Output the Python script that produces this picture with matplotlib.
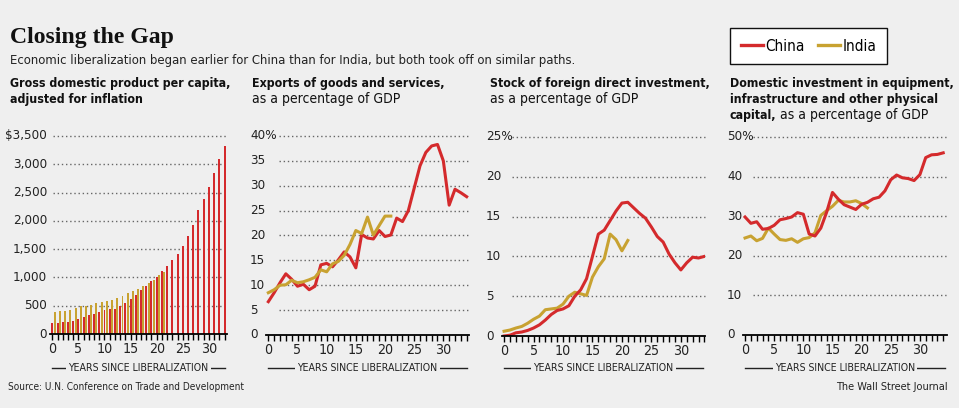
import numpy as np
import matplotlib.pyplot as plt
from matplotlib.lines import Line2D
from matplotlib import font_manager

W, H = 959, 408
BG = '#efefef'
RED = '#d42a2c'
GOLD = '#c8a231'

# narrowest sans family available
names = {(f.name, f.stretch) for f in font_manager.fontManager.ttflist}
SANS, STRETCH = 'Liberation Sans', 'normal'
for n, s in [('Liberation Sans Narrow', 'condensed'), ('Liberation Sans Narrow', 'normal'),
             ('Roboto Condensed', 'normal'), ('DejaVu Sans', 'condensed'),
             ('Roboto', 'normal')]:
    if (n, s) in names:
        SANS, STRETCH = n, s
        break
plt.rcParams['font.family'] = [SANS, 'DejaVu Sans']
plt.rcParams['font.stretch'] = STRETCH

# ---------------------------------------------------------------- data
gdp_china = [190, 200, 210, 220, 235, 260, 295, 330, 355, 385, 420, 435, 445, 490,
             545, 615, 690, 770, 840, 930, 1010, 1110, 1200, 1300, 1420, 1556, 1730,
             1935, 2195, 2390, 2600, 2850, 3100, 3320]
gdp_india = [390, 405, 415, 430, 460, 490, 500, 520, 550, 565, 575, 600, 635, 675,
             720, 760, 800, 840, 900, 960, 1040, 1090]

exports_china = [6.7, 8.5, 10.5, 12.3, 11.2, 9.8, 10.2, 9.1, 9.8, 14.1, 14.4, 13.7, 15.1,
                 16.7, 15.7, 13.5, 20.2, 19.5, 19.3, 21.0, 19.8, 20.1, 23.5, 22.8, 25.0,
                 29.5, 34.0, 36.7, 38.0, 38.3, 35.0, 26.1, 29.3, 28.6, 27.8]
exports_india = [8.5, 9.1, 10.0, 10.1, 11.0, 10.5, 10.7, 11.1, 11.6, 13.1, 12.7, 14.3,
                 14.8, 16.0, 18.2, 21.0, 20.4, 23.7, 20.1, 22.0, 23.9, 23.9]

fdi_china = [0.0, 0.1, 0.4, 0.5, 0.7, 1.0, 1.4, 2.0, 2.7, 3.2, 3.4, 3.8, 5.0, 5.8, 7.2,
             10.0, 12.8, 13.3, 14.5, 15.7, 16.7, 16.8, 16.1, 15.4, 14.8, 13.7, 12.5,
             11.8, 10.3, 9.2, 8.3, 9.2, 9.9, 9.8, 10.0]
fdi_india = [0.6, 0.75, 1.0, 1.2, 1.6, 2.1, 2.5, 3.3, 3.4, 3.5, 4.0, 5.0, 5.5, 5.3, 5.1,
             7.4, 8.7, 9.7, 12.8, 12.1, 10.7, 12.0]

invest_china = [29.8, 28.2, 28.6, 26.7, 26.9, 27.7, 29.1, 29.4, 29.8, 30.9, 30.5, 25.5,
                25.0, 27.0, 31.0, 36.0, 34.3, 32.9, 32.3, 31.7, 33.0, 33.5, 34.4, 34.8,
                36.4, 39.2, 40.4, 39.7, 39.5, 39.0, 40.5, 44.8, 45.5, 45.6, 46.0]
invest_india = [24.5, 25.0, 23.8, 24.4, 27.0, 25.5, 24.1, 23.9, 24.3, 23.4, 24.3, 24.6,
                25.8, 30.2, 31.4, 32.5, 34.0, 33.6, 33.6, 33.9, 33.2, 32.1]

yt_gdp = [0, 500, 1000, 1500, 2000, 2500, 3000, 3500]
yl_gdp = ['0', '500', '1,000', '1,500', '2,000', '2,500', '3,000', '$3,500']
yt_exp = [0, 5, 10, 15, 20, 25, 30, 35, 40]
yl_exp = ['0', '5', '10', '15', '20', '25', '30', '35', '40%']
yt_fdi = [0, 5, 10, 15, 20, 25]
yl_fdi = ['0', '5', '10', '15', '20', '25%']
yt_inv = [0, 10, 20, 30, 40, 50]
yl_inv = ['0', '10', '20', '30', '40', '50%']

# ---------------------------------------------------------------- figure
fig = plt.figure(figsize=(W / 100, H / 100), dpi=100, facecolor=BG)
renderer = fig.canvas.get_renderer()


def fy(y):
    return 1 - y / H


def fit(t, width_px):
    # scale a text's font size so it spans width_px, as in the reference
    w = t.get_window_extent(renderer).width
    t.set_fontsize(t.get_fontsize() * width_px / w)
    return t


probe = fit(fig.text(0, 0, '3,000', fontsize=11), 34)
TICK_FS = probe.get_fontsize()
probe.remove()


def px_axes(x0, x1, y_top, y_bot):
    return fig.add_axes([x0 / W, fy(y_bot), (x1 - x0) / W, (y_bot - y_top) / H])


def setup(ax, x0, x1, xlim, ylim, yticks, ylabels, lab_px, ha, grid_px, last):
    ax.set_facecolor('none')
    ax.set_xlim(*xlim)
    ax.set_ylim(*ylim)
    for s in ['top', 'right', 'left']:
        ax.spines[s].set_visible(False)
    ax.spines['bottom'].set_linewidth(1.3)
    ax.set_xticks(range(0, 31, 5))
    ax.set_xticks(range(0, last + 1), minor=True)
    ax.tick_params(axis='x', which='both', direction='out', length=4, width=1,
                   labelsize=TICK_FS * 1.06, pad=2, colors='black', labelcolor='#222')
    ax.set_yticks([])
    trans = ax.get_yaxis_transform()
    gx = (grid_px - x0) / (x1 - x0)
    lx = (lab_px - x0) / (x1 - x0)
    for v, lab in zip(yticks, ylabels):
        if v > 0:
            ax.plot([gx, 1], [v, v], transform=trans, ls=(0, (1, 2)), color='#666',
                    lw=1, clip_on=False, zorder=0)
        ax.text(lx, v, lab, transform=trans, ha=ha, va='center', fontsize=TICK_FS,
                color='#222')
    # axis title with rules either side
    fig.add_artist(Line2D([x0 / W + 0.002, x1 / W - 0.002], [fy(368), fy(368)],
                          color='#222', lw=1))
    t = fig.text((x0 + x1) / 2 / W, fy(368), 'YEARS SINCE LIBERALIZATION', ha='center',
                 va='center', fontsize=9, color='#222',
                 bbox=dict(facecolor=BG, edgecolor='none', pad=2))
    fit(t, 142)


# panel 1: GDP per capita bars
ax1 = px_axes(50, 227, 136, 334)
setup(ax1, 50, 227, (-0.44, 33.47), (0, 3500), yt_gdp, yl_gdp, 47, 'right', 53, 33)
ax1.bar(np.arange(len(gdp_china)), gdp_china, width=0.38, color=RED, zorder=2)
ax1.bar(np.arange(len(gdp_india)) + 0.45, gdp_india, width=0.38, color=GOLD, zorder=2)

# panel 2: exports
ax2 = px_axes(266, 469, 136, 335)
setup(ax2, 266, 469, (-0.4, 34.4), (0, 40), yt_exp, yl_exp, 250, 'left', 279, 34)
l_china, = ax2.plot(range(len(exports_china)), exports_china, color=RED, lw=2.2)
l_india, = ax2.plot(range(len(exports_india)), exports_india, color=GOLD, lw=2.2)

# panel 3: FDI stock
ax3 = px_axes(502, 705, 137, 336)
setup(ax3, 502, 705, (-0.35, 34.1), (0, 25), yt_fdi, yl_fdi, 486, 'left', 512, 34)
ax3.plot(range(len(fdi_india)), fdi_india, color=GOLD, lw=2.2)
ax3.plot(range(len(fdi_china)), fdi_china, color=RED, lw=2.2)

# panel 4: domestic investment
ax4 = px_axes(743, 947, 137, 335)
setup(ax4, 743, 947, (-0.35, 34.65), (0, 50), yt_inv, yl_inv, 727, 'left', 753, 34)
ax4.plot(range(len(invest_india)), invest_india, color=GOLD, lw=2.2)
ax4.plot(range(len(invest_china)), invest_china, color=RED, lw=2.2)

# ---------------------------------------------------------------- text
t = fig.text(10 / W, fy(42.5), 'Closing the Gap', fontsize=17, fontweight='bold',
             family=['Liberation Serif', 'DejaVu Serif'], va='baseline', color='#111')
fit(t, 164)
t = fig.text(10 / W, fy(64), 'Economic liberalization began earlier for China than for '
             'India, but both took off on similar paths.', fontsize=11, va='baseline',
             color='#222')
fit(t, 565)

BOLD_FS = fit(fig.text(10 / W, fy(87), 'Gross domestic product per capita,',
                       fontweight='bold', fontsize=11, va='baseline', color='#111'),
              222).get_fontsize()
reg = fit(fig.text(252 / W, fy(103), 'as a percentage of GDP', fontsize=11,
                   va='baseline', color='#111'), 148)
REG_FS = reg.get_fontsize()

tb = dict(va='baseline', color='#111')
fig.text(10 / W, fy(103), 'adjusted for inflation', fontweight='bold', fontsize=BOLD_FS, **tb)
fig.text(252 / W, fy(87), 'Exports of goods and services,', fontweight='bold',
         fontsize=BOLD_FS, **tb)
fig.text(490 / W, fy(87), 'Stock of foreign direct investment,', fontweight='bold',
         fontsize=BOLD_FS, **tb)
fig.text(490 / W, fy(103), 'as a percentage of GDP', fontsize=REG_FS, **tb)
fig.text(730 / W, fy(87), 'Domestic investment in equipment,', fontweight='bold',
         fontsize=BOLD_FS, **tb)
fig.text(730 / W, fy(103), 'infrastructure and other physical', fontweight='bold',
         fontsize=BOLD_FS, **tb)
t = fig.text(730 / W, fy(119), 'capital,', fontweight='bold', fontsize=BOLD_FS, **tb)
bb = t.get_window_extent(renderer)
fig.text(bb.x1 / W + 3 / W, fy(119), 'as a percentage of GDP', fontsize=REG_FS, **tb)

t = fig.text(8 / W, fy(390), 'Source: U.N. Conference on Trade and Development',
             fontsize=9, color='#222', va='baseline')
fit(t, 236)
t = fig.text(948 / W, fy(390), 'The Wall Street Journal', fontsize=9, color='#222',
             va='baseline', ha='right')
fit(t, 112)

leg = fig.legend(handles=[l_china, l_india], labels=['China', 'India'], ncol=2,
                 loc='upper left', bbox_to_anchor=(730 / W, fy(28)), frameon=True,
                 fancybox=False, edgecolor='#111', facecolor='white', framealpha=1,
                 fontsize=REG_FS * 1.1, handlelength=1.45, handletextpad=0.15,
                 columnspacing=0.9, borderpad=0.7, borderaxespad=0)
leg.get_frame().set_linewidth(1)
for h in leg.legend_handles:
    h.set_linewidth(2.4)

fig.savefig('out.png', dpi=100, facecolor=BG)
